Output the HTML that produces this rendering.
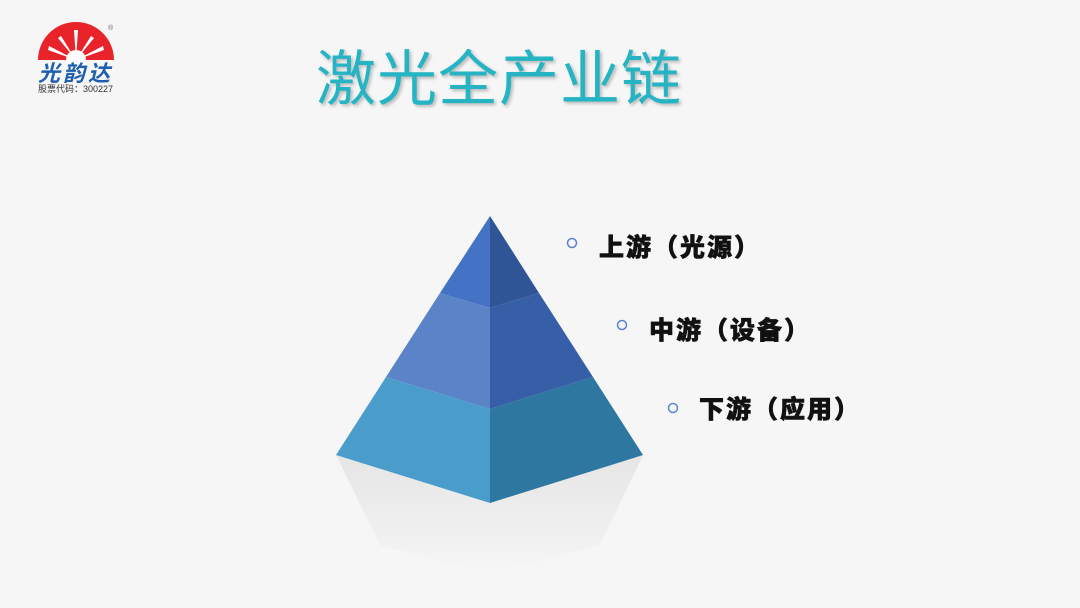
<!DOCTYPE html>
<html><head><meta charset="utf-8"><style>
html,body{margin:0;padding:0;}
body{width:1080px;height:608px;background:#f6f6f6;position:relative;overflow:hidden;font-family:"Liberation Sans","Noto Sans CJK SC",sans-serif;}
.t{position:absolute;white-space:nowrap;}
.title{left:316px;top:42px;font-size:60px;line-height:76px;color:#24b4c4;font-weight:normal;letter-spacing:1px;text-shadow:2px 2px 3px rgba(0,0,0,0.25);}
.lab{font-size:25px;font-weight:900;color:#111;line-height:30px;-webkit-text-stroke:0.6px #111;letter-spacing:2px;}
</style></head><body>
<svg width="1080" height="608" style="position:absolute;left:0;top:0">
<defs>
<linearGradient id="rf" x1="0" y1="0" x2="0" y2="1">
<stop offset="0" stop-color="#e2e2e2"/><stop offset="1" stop-color="#f6f6f6"/>
</linearGradient>
</defs>
<path d="M38 60 A38 38 0 0 1 114 60 Z" fill="#e8232a"/>
<g fill="#fff">
<polygon points="76,60 74,30 78,30"/>
<polygon points="76,60 58,38 61,36"/>
<polygon points="76,60 94,38 91,36"/>
<polygon points="76,60 48,50 49,46"/>
<polygon points="76,60 104,50 103,46"/>
<circle cx="76" cy="60" r="10"/>
</g>
<text x="38" y="81" font-size="22" font-weight="bold" fill="#1f5fae" font-family="Noto Sans CJK SC,sans-serif" font-style="italic" letter-spacing="3">光韵达</text>
<text x="38" y="92" font-size="9" fill="#333" font-family="Liberation Sans,Noto Sans CJK SC,sans-serif">股票代码：300227</text>
<text x="108" y="30" font-size="7" fill="#666">®</text>
<polygon points="336,455 490,503 643,455 600,545 490,575 380,545" fill="url(#rf)" opacity="0.85"/>
<polygon points="490,216 440,293 490,308" fill="#4472c4"/>
<polygon points="490,216 539,293 490,308" fill="#2f5597"/>
<polygon points="440,293 490,308 490,409 386,377" fill="#5b83c8"/>
<polygon points="539,293 490,308 490,409 593,377" fill="#375fa7"/>
<polygon points="386,377 490,409 490,503 336,455" fill="#4a9ccb"/>
<polygon points="593,377 490,409 490,503 643,455" fill="#2e77a0"/>
<circle cx="572" cy="243" r="4.5" fill="none" stroke="#5b83d0" stroke-width="1.5"/>
<circle cx="622" cy="325" r="4.5" fill="none" stroke="#5b83d0" stroke-width="1.5"/>
<circle cx="673" cy="408" r="4.5" fill="none" stroke="#5b83d0" stroke-width="1.5"/>
</svg>
<div class="t title">激光全产业链</div>
<div class="t lab" style="left:599px;top:233px;">上游（光源）</div>
<div class="t lab" style="left:649px;top:316px;">中游（设备）</div>
<div class="t lab" style="left:699px;top:395px;">下游（应用）</div>
</body></html>
